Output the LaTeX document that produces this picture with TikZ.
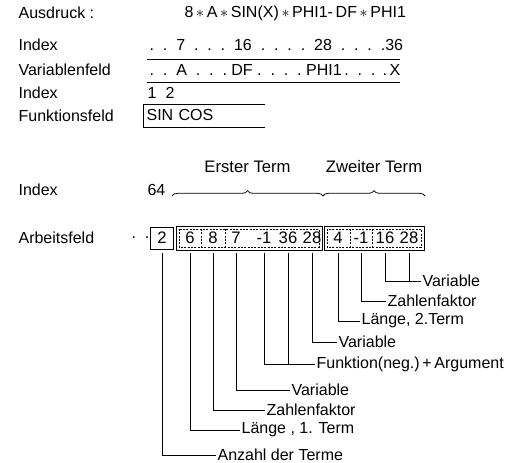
\documentclass[tikz,border=0pt]{standalone}
\usepackage{fontspec}
\setmainfont{Liberation Sans}
\usetikzlibrary{positioning,decorations.pathreplacing}

\begin{document}
\begin{tikzpicture}[
    x=0.75pt, y=-0.75pt,
    txt/.style={font=\fontsize{12}{14}\selectfont, inner sep=1pt, anchor=west},
    rowname/.style={txt},
    cell/.style={font=\fontsize{12.5}{14}\selectfont, inner sep=0pt},
    termname/.style={font=\fontsize{12.5}{14}\selectfont, inner sep=1pt},
    leader/.style={line width=0.6pt},
    box/.style={line width=0.7pt},
    sepline/.style={dash pattern=on 1.5pt off 1pt, line width=0.5pt},
    tbrace/.style={decorate, decoration={brace, amplitude=4pt}, line width=0.6pt}
]
\useasboundingbox (0,0) rectangle (520,463);

%% Row names (left column)
\node[rowname] (ausdruck) at (17,13)  {Ausdruck :};
\node[rowname] (idxA)     at (17,45)  {Index};
\node[rowname] (varfeld)  at (17,70)  {Variablenfeld};
\node[rowname] (idxB)     at (17,93)  {Index};
\node[rowname] (funfeld)  at (17,116) {Funktionsfeld};
\node[rowname] (idxC)     at (17,190) {Index};
\node[rowname] (arbfeld)  at (17,238) {Arbeitsfeld};

%% Expression and variable field
\node[txt] (expr) at (183,13)
    {8\,$*$\,A\,$*$\,SIN(X)\,$*$\,PHI1-\,DF\,$*$\,PHI1};
\node[txt] (idxrow) at (148,45)
    {.\ \ .\ \ 7\ \ .\ \ .\ \ .\ \ 16\ \ .\ \ .\ \ .\ \ .\ \ 28\ \ .\ \ .\ \ .\ \ .36};
\node[txt] (varrow) at (148,70)
    {.\ \ .\ \ A\ \ .\ \ .\ \ .\ DF\ .\ \ .\ \ .\ \ .\ PHI1\,.\ \ .\ \ .\ \,.\,X};
\draw[box] (147,59) -- (400,59);
\draw[box] (147,82) -- (400,82);

%% Function field
\node[txt] (f1) at (146,93) {1};
\node[txt] (f2) at (164,93) {2};
\node[txt] (sincos) at (145,115) {SIN\,\,COS};
\draw[box] (265,104) -- (143,104) -- (143,127) -- (265,127);

%% Terms with braces
\node[txt] (i64) at (146,190) {64};
\coordinate (b0) at (172,196);
\coordinate (b1) at (323,196);
\coordinate (b2) at (425,196);
\draw[tbrace] (b0) -- (b1) node[termname, midway, above=16pt] {Erster Term};
\draw[tbrace] (b1) -- (b2) node[termname, midway, above=16pt] {Zweiter Term};

%% Work field cells
\node[txt] (pts) at (130,238) {.\ \ .};
\node[cell] (n2)  at (162,238) {2};
\node[cell] (c6)  at (190,238) {6};
\node[cell] (c8)  at (213,238) {8};
\node[cell] (c7)  at (236,238) {7};
\node[cell] (cm1) at (264,238) {-1};
\node[cell] (c36) at (288,238) {36};
\node[cell] (c28) at (312,238) {28};
\node[cell] (d4)  at (338,238) {4};
\node[cell] (dm1) at (361,238) {-1};
\node[cell] (d16) at (385,238) {16};
\node[cell] (d28) at (409,238) {28};

\draw[box] (150,227) rectangle (173,249);
\draw[box] (176,226) rectangle (322,250);
\draw[sepline] (179,229) rectangle (319,247);
\draw[sepline] (201,229) -- (201,247);
\draw[sepline] (225,229) -- (225,247);
\draw[box] (324,226) rectangle (424,250);
\draw[sepline] (327,229) rectangle (421,247);
\draw[sepline] (350,229) -- (350,247);
\draw[sepline] (372,229) -- (372,247);

%% Explanations
\node[txt] (v2)  at (421,281) {Variable};
\node[txt] (z2)  at (386,301) {Zahlenfaktor};
\node[txt] (l2)  at (360,321) {Länge, 2.Term};
\node[txt] (v1b) at (337,342) {Variable};
\node[txt] (fa)  at (315,364) {Funktion(neg.)\,+\,Argument};
\node[txt] (v1)  at (290,390) {Variable};
\node[txt] (z1)  at (265,410) {Zahlenfaktor};
\node[txt] (l1)  at (240,430) {Länge , 1. Term};
\node[txt] (anz) at (216,455) {Anzahl der Terme};

%% Leader lines
\coordinate (lbase) at (0,253);
\draw[leader] (d16 |- lbase) |- (v2.west);
\draw[leader] (d28 |- lbase) -- (d28 |- v2.west);
\draw[leader] (dm1 |- lbase) |- (z2.west);
\draw[leader] (d4 |- lbase) |- (l2.west);
\draw[leader] (c28 |- lbase) |- (v1b.west);
\draw[leader] (cm1 |- lbase) |- (fa.west);
\draw[leader] (c36 |- lbase) -- (c36 |- fa.west);
\draw[leader] (c7 |- lbase) |- (v1.west);
\draw[leader] (c8 |- lbase) |- (z1.west);
\draw[leader] (c6 |- lbase) |- (l1.west);
\draw[leader] (n2 |- lbase) |- (anz.west);

\end{tikzpicture}
\end{document}
